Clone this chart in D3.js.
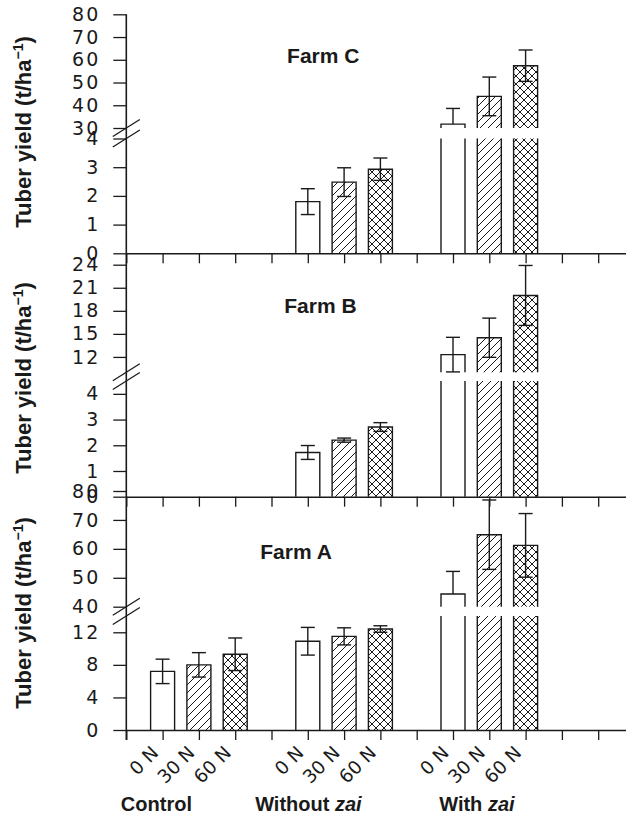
<!DOCTYPE html>
<html><head><meta charset="utf-8">
<script src="https://cdn.jsdelivr.net/npm/d3@7"></script>
<style>body{margin:0;background:#fff}</style>
</head><body>
<svg id="chart" width="626" height="815"></svg>
<script>
// ---------- data ----------
const treatments = ["0 N", "30 N", "60 N"];
const groups = ["Control", "Without", "With"];
// order: Control(0,30,60), Without zai(0,30,60), With zai(0,30,60)
const farmCValues = [null, null, null, 1.80, 2.48, 2.93, 31.7, 43.9, 57.4];
const farmCErrors = [null, null, null, 0.45, 0.50, 0.39, 6.9, 8.5, 6.9];
const farmBValues = [null, null, null, 1.72, 2.20, 2.71, 12.3, 14.5, 20.0];
const farmBErrors = [null, null, null, 0.27, 0.08, 0.17, 2.25, 2.55, 3.9];
const farmAValues = [7.2, 8.0, 9.3, 10.9, 11.5, 12.4, 44.4, 64.9, 61.2];
const farmAErrors = [1.5, 1.5, 2.0, 1.7, 1.05, 0.4, 7.8, 12.0, 11.0];
const farmCLowerTicks = [0, 1, 2, 3, 4];
const farmCUpperTicks = [30, 40, 50, 60, 70, 80];
const farmBLowerTicks = [0, 1, 2, 3, 4];
const farmBUpperTicks = [12, 15, 18, 21, 24];
const farmALowerTicks = [0, 4, 8, 12];
const farmAUpperTicks = [40, 50, 60, 70, 80];

// ---------- layout ----------
const ink = "#1a1a1a";
const bw = 24;
const panels = [
  {name: "Farm C", values: farmCValues, errors: farmCErrors, lowerDomain: [0, 4], upperDomain: [30, 80],
   lowerTicks: farmCLowerTicks, upperTicks: farmCUpperTicks,
   base: 253.3, lowerTop: 138.5, upperBottom: 128, upperTop: 14.3, label: [4.43, 62.7], titleY: 132},
  {name: "Farm B", values: farmBValues, errors: farmBErrors, lowerDomain: [0, 4.5], upperDomain: [10, 24],
   lowerTicks: farmBLowerTicks, upperTicks: farmBUpperTicks,
   base: 496.7, lowerTop: 381, upperBottom: 372.3, upperTop: 264.7, label: [4.35, 312.7], titleY: 378},
  {name: "Farm A", values: farmAValues, errors: farmAErrors, lowerDomain: [0, 14], upperDomain: [40, 80],
   lowerTicks: farmALowerTicks, upperTicks: farmAUpperTicks,
   base: 730, lowerTop: 616, upperBottom: 606.7, upperTop: 491, label: [3.69, 559.3], titleY: 613}
];

const svg = d3.select("#chart");
const x = d3.scaleLinear().domain([0, 14]).range([126.3, 634.5]);

// patterns
const defs = svg.append("defs");
function pattern(id, d) {
  const p = defs.append("pattern").attr("id", id).attr("patternUnits", "userSpaceOnUse")
    .attr("width", 8).attr("height", 8);
  p.append("rect").attr("width", 8).attr("height", 8).attr("fill", "#fff");
  p.append("path").attr("d", d).attr("stroke", ink).attr("stroke-width", 1).attr("fill", "none");
}
pattern("diag", "M-2,2L2,-2M0,8L8,0M6,10L10,6");
pattern("cross", "M-2,2L2,-2M0,8L8,0M6,10L10,6M-2,6L2,10M0,0L8,8M6,-2L10,2");
const fills = ["#fff", "url(#diag)", "url(#cross)"];

function segment(g, x0, x1, yb, yt, fill, top) {
  g.append("rect").attr("x", x0).attr("y", yt).attr("width", x1 - x0).attr("height", yb - yt).attr("fill", fill);
  const d = top ? `M${x0},${yb}V${yt}H${x1}V${yb}` : `M${x0},${yb}V${yt}M${x1},${yt}V${yb}`;
  g.append("path").attr("d", d).attr("fill", "none").attr("stroke", ink).attr("stroke-width", 1.4);
}

panels.forEach(p => {
  const yL = d3.scaleLinear().domain(p.lowerDomain).range([p.base, p.lowerTop]);
  const yU = d3.scaleLinear().domain(p.upperDomain).range([p.upperBottom, p.upperTop]);
  const g = svg.append("g");

  // bars
  p.values.forEach((v, i) => {
    if (v == null) return;
    const t = i % 3, grp = Math.floor(i / 3);
    const cx = x(grp * 4 + t + 1), x0 = cx - bw / 2, x1 = cx + bw / 2;
    let s, dmin;
    if (v <= p.lowerDomain[1]) {
      segment(g, x0, x1, yL(0), yL(v), fills[t], true);
      s = yL; dmin = p.lowerDomain[0];
    } else {
      segment(g, x0, x1, yL(0), yL(p.lowerDomain[1]), fills[t], false);
      segment(g, x0, x1, yU(p.upperDomain[0]), yU(v), fills[t], true);
      s = yU; dmin = p.upperDomain[0];
    }
    const e = p.errors[i], hi = v + e, lo = v - e;
    const eg = g.append("g").attr("stroke", ink).attr("stroke-width", 1.4);
    const from = lo < dmin ? v : lo;
    eg.append("line").attr("x1", cx).attr("x2", cx).attr("y1", s(from)).attr("y2", s(hi));
    eg.append("line").attr("x1", cx - 7).attr("x2", cx + 7).attr("y1", s(hi)).attr("y2", s(hi));
    if (lo >= dmin) eg.append("line").attr("x1", cx - 7).attr("x2", cx + 7).attr("y1", s(lo)).attr("y2", s(lo));
  });

  // y ticks
  [[yL, p.lowerTicks], [yU, p.upperTicks]].forEach(([s, t]) => {
    const ax = g.append("g").attr("transform", `translate(${x(0)},0)`)
      .call(d3.axisLeft(s).tickValues(t).tickSize(13).tickPadding(15).tickFormat(d3.format("d")));
    ax.select(".domain").remove();
    ax.selectAll("line").attr("stroke", ink).attr("stroke-width", 1.3);
    ax.selectAll("text").attr("font-family", "DejaVu Sans").attr("font-size", 19)
      .attr("letter-spacing", 2).attr("dx", 2).attr("fill", ink);
  });

  // x axis
  const xa = g.append("g").attr("transform", `translate(0,${p.base})`)
    .call(d3.axisBottom(x).tickValues(d3.range(0, 14)).tickSize(10).tickSizeOuter(0).tickFormat(""));
  xa.select(".domain").attr("stroke", ink).attr("stroke-width", 1.6);
  xa.selectAll("line").attr("stroke", ink).attr("stroke-width", 1.3);

  // break marks
  [p.upperBottom, p.lowerTop].forEach(yc => {
    g.append("line").attr("x1", x(0) - 13.5).attr("y1", yc + 8.5).attr("x2", x(0) + 13.5).attr("y2", yc - 8.5)
      .attr("stroke", ink).attr("stroke-width", 1.3);
  });

  // farm label
  g.append("text").attr("x", x(p.label[0])).attr("y", p.label[1]).text(p.name)
    .attr("font-family", "Liberation Sans, Arial, sans-serif").attr("font-weight", "bold")
    .attr("font-size", 21).attr("fill", ink);

  // y title
  const tt = g.append("text").attr("transform", `translate(31,${p.titleY}) rotate(-90)`)
    .attr("text-anchor", "middle").attr("font-family", "Liberation Sans, Arial, sans-serif")
    .attr("font-weight", "bold").attr("font-size", 22).attr("fill", ink);
  tt.append("tspan").text("Tuber yield (t/ha");
  tt.append("tspan").text("\u22121").attr("font-size", 14).attr("dy", -8);
  tt.append("tspan").text(")").attr("dy", 8);
});

// y axis line
svg.append("line").attr("x1", x(0)).attr("x2", x(0))
  .attr("y1", panels[0].upperTop).attr("y2", panels[2].base + 10)
  .attr("stroke", ink).attr("stroke-width", 1.6);

// x tick labels under Farm A
const pa = panels[2];
farmAValues.forEach((v, i) => {
  const t = i % 3, grp = Math.floor(i / 3);
  const cx = x(grp * 4 + t + 1);
  svg.append("text").attr("transform", `translate(${cx - 3},${pa.base + 24}) rotate(-45)`)
    .attr("text-anchor", "end").attr("font-family", "DejaVu Sans").attr("font-size", 18.5)
    .attr("fill", ink).text(treatments[t]);
});

// group labels
const groupStart = [-0.15, 3.55, 8.62];
groups.forEach((name, k) => {
  const t = svg.append("text").attr("x", x(groupStart[k])).attr("y", 811)
    .attr("font-family", "Liberation Sans, Arial, sans-serif").attr("font-weight", "bold")
    .attr("font-size", 20).attr("fill", ink);
  t.append("tspan").text(name);
  if (k > 0) t.append("tspan").text(" zai").attr("font-style", "italic");
});
</script>
</body></html>
